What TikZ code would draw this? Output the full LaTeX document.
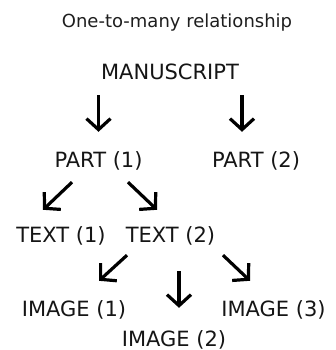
\documentclass[tikz,border=0pt]{standalone}
\usepackage{fontspec}
\setmainfont{DejaVu Sans}
\usepackage{xcolor}
\usepackage{tikz}
\usetikzlibrary{arrows.meta}
\definecolor{labelgray}{HTML}{151515}
\definecolor{titlegray}{HTML}{1E1E1E}

\begin{document}
\begin{tikzpicture}[x=1pt, y=-1pt,
    lbl/.style={anchor=base, inner sep=0pt, text height=16pt, text depth=3pt, text=labelgray, font=\fontsize{21}{25}\selectfont},
    arr/.style={line width=3.2pt, -{Straight Barb[length=11pt, width=24pt]}}]
            \useasboundingbox (0, 0) rectangle (336, 350);
            \node (title) at (177, 28) [anchor=base, inner sep=0pt, text=titlegray, font=\fontsize{18}{22}\selectfont] {One-to-many relationship};
            \node (man) at (170, 80) [lbl] {MANUSCRIPT};
            \node (p1) at (98.5, 167) [lbl] {PART (1)};
            \node (p2) at (256, 167) [lbl] {PART (2)};
            \node (t1) at (61, 242) [lbl] {TEXT (1)};
            \node (t2) at (170.5, 242) [lbl] {TEXT (2)};
            \node (i1) at (74, 316) [lbl] {IMAGE (1)};
            \node (i2) at (174, 346) [lbl] {IMAGE (2)};
            \node (i3) at (273.5, 316) [lbl] {IMAGE (3)};
            \draw [arr] ([shift={(-71.5, 12)}]man.south) -- ([shift={(0, -19)}]p1.north);
            \draw [arr] ([shift={(72, 12)}]man.south) -- ([shift={(-14, -19)}]p2.north);
            \draw [arr] ([shift={(-26.5, 12)}]p1.south) -- ([shift={(-18, -16)}]t1.north);
            \draw [arr] ([shift={(29.5, 12)}]p1.south) -- ([shift={(-13.5, -16)}]t2.north);
            \draw [arr] ([shift={(-43.5, 10)}]t2.south) -- ([shift={(25, -19)}]i1.north);
            \draw [arr] ([shift={(8.5, 26)}]t2.south) -- ([shift={(5, -22)}]i2.north);
            \draw [arr] ([shift={(52.5, 10)}]t2.south) -- ([shift={(-23.5, -19)}]i3.north);
        \end{tikzpicture}
\end{document}
